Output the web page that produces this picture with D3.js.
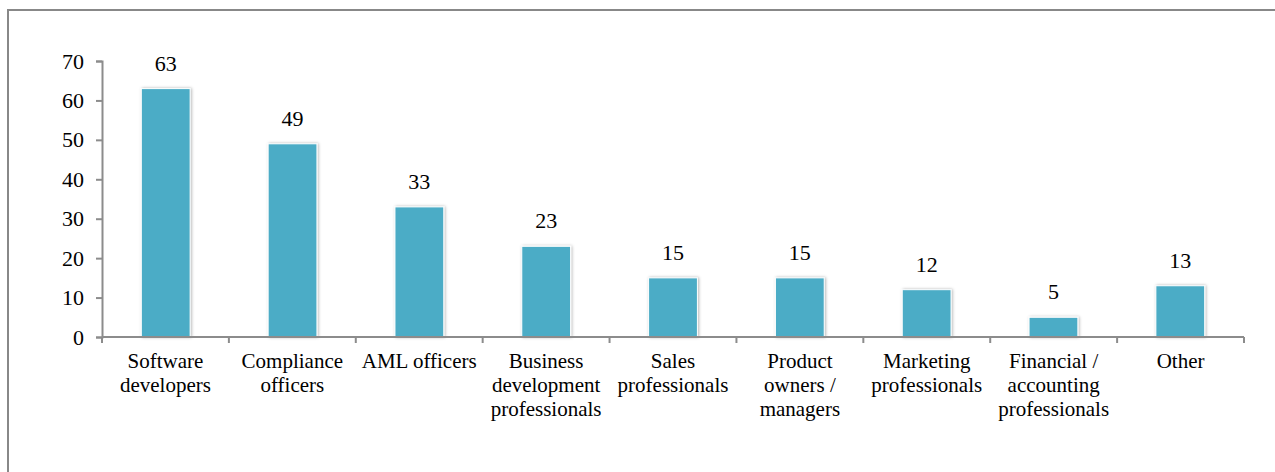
<!DOCTYPE html>
<html>
<head>
<meta charset="utf-8">
<script src="https://cdn.jsdelivr.net/npm/d3@7"></script>
</head>
<body style="margin:0;background:#fff">
<svg id="chart" style="display:block"></svg>
<script>
// data
const categories = [
    ["Software", "developers"],
    ["Compliance", "officers"],
    ["AML officers"],
    ["Business", "development", "professionals"],
    ["Sales", "professionals"],
    ["Product", "owners /", "managers"],
    ["Marketing", "professionals"],
    ["Financial /", "accounting", "professionals"],
    ["Other"]
];
const values = [63, 49, 33, 23, 15, 15, 12, 5, 13];
const yTicks = [0, 10, 20, 30, 40, 50, 60, 70];

const FONT = '"Liberation Serif"';
const W = 1275, H = 472;
const svg = d3.select("#chart").attr("width", W).attr("height", H);

// outer frame (runs off right and bottom)
svg.append("rect")
    .attr("x", 8).attr("y", 10)
    .attr("width", W + 10).attr("height", H + 10)
    .attr("fill", "none")
    .attr("stroke", "#888")
    .attr("stroke-width", 2);

// bar shadow
const defs = svg.append("defs");
const f = defs.append("filter").attr("id", "shadow")
    .attr("x", "-20%").attr("y", "-20%").attr("width", "140%").attr("height", "140%");
f.append("feDropShadow")
    .attr("dx", 1).attr("dy", 0).attr("stdDeviation", 1.5)
    .attr("flood-color", "#000").attr("flood-opacity", 0.3);

const x0 = 102, x1 = 1244, yTop = 61, yBase = 337;
const x = d3.scaleBand()
    .domain(d3.range(categories.length))
    .range([x0, x1])
    .paddingInner(0.615)
    .paddingOuter(0.31);
const y = d3.scaleLinear().domain([0, 70]).range([yBase, yTop]);

// y axis
const yAxis = svg.append("g")
    .attr("transform", `translate(${x0},0)`)
    .call(d3.axisLeft(y).tickValues(yTicks).tickSize(6).tickPadding(12));
yAxis.select(".domain").attr("stroke", "#8c8c8c").attr("stroke-width", 2);
yAxis.selectAll(".tick line").attr("stroke", "#8c8c8c").attr("stroke-width", 2);
yAxis.selectAll(".tick text")
    .style("font-family", FONT)
    .style("font-size", "22px")
    .attr("fill", "#000");

// bars
svg.append("g").selectAll("rect")
    .data(values)
    .join("rect")
    .attr("x", (d, i) => x(i))
    .attr("y", d => y(d))
    .attr("width", x.bandwidth())
    .attr("height", d => yBase - y(d))
    .attr("fill", "#4bacc6")
    .attr("stroke", "#fff")
    .attr("stroke-width", 1)
    .attr("filter", "url(#shadow)");

// value labels
svg.append("g").selectAll("text")
    .data(values)
    .join("text")
    .attr("x", (d, i) => x(i) + x.bandwidth() / 2)
    .attr("y", d => y(d) - 18)
    .attr("text-anchor", "middle")
    .style("font-family", FONT)
    .style("font-size", "22px")
    .attr("fill", "#000")
    .text(d => d);

// x axis
const band = (x1 - x0) / categories.length;
const xa = svg.append("g");
xa.append("line")
    .attr("x1", x0).attr("x2", x1)
    .attr("y1", yBase).attr("y2", yBase)
    .attr("stroke", "#8c8c8c").attr("stroke-width", 2);
xa.selectAll("line.tk")
    .data(d3.range(categories.length + 1))
    .join("line")
    .attr("class", "tk")
    .attr("x1", i => x0 + i * band).attr("x2", i => x0 + i * band)
    .attr("y1", yBase).attr("y2", yBase + 6)
    .attr("stroke", "#8c8c8c").attr("stroke-width", 2);

const labels = xa.selectAll("text.cat")
    .data(categories)
    .join("text")
    .attr("class", "cat")
    .attr("text-anchor", "middle")
    .style("font-family", FONT)
    .style("font-size", "21px")
    .attr("fill", "#000");
labels.each(function (d, i) {
    const t = d3.select(this);
    d.forEach((line, k) => {
        t.append("tspan")
            .attr("x", x0 + (i + 0.5) * band)
            .attr("y", yBase + 31 + k * 24)
            .text(line);
    });
});
</script>
</body>
</html>
